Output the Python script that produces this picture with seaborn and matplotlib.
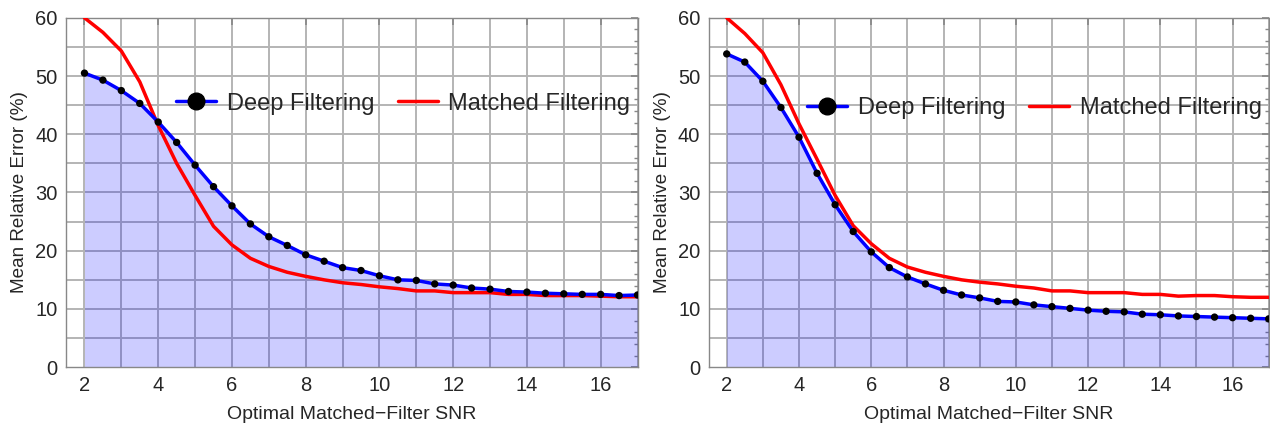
import numpy as np
import pandas as pd
import matplotlib
matplotlib.use("Agg")
import matplotlib.pyplot as plt
import seaborn as sns
from matplotlib.ticker import MultipleLocator
from matplotlib.lines import Line2D

snr = [2, 2.5, 3, 3.5, 4, 4.5, 5, 5.5, 6, 6.5, 7, 7.5, 8, 8.5, 9, 9.5, 10,
       10.5, 11, 11.5, 12, 12.5, 13, 13.5, 14, 14.5, 15, 15.5, 16, 16.5, 17]

deep_left = [50.5, 49.3, 47.5, 45.3, 42.1, 38.6, 34.7, 31.0, 27.7, 24.6, 22.4, 20.9,
             19.3, 18.2, 17.1, 16.6, 15.7, 15.0, 14.9, 14.3, 14.1, 13.6, 13.4, 13.0,
             12.9, 12.7, 12.6, 12.5, 12.5, 12.3, 12.4]
matched_left = [60.0, 57.5, 54.3, 49.0, 41.5, 35.0, 29.5, 24.2, 21.0, 18.7, 17.3, 16.3,
                15.6, 15.0, 14.5, 14.2, 13.8, 13.5, 13.1, 13.1, 12.8, 12.8, 12.8, 12.5,
                12.5, 12.3, 12.3, 12.3, 12.2, 12.1, 12.1]

deep_right = [53.8, 52.4, 49.1, 44.6, 39.5, 33.3, 27.9, 23.3, 19.8, 17.1, 15.5, 14.3,
              13.2, 12.4, 11.9, 11.3, 11.2, 10.7, 10.4, 10.1, 9.8, 9.6, 9.5, 9.1,
              9.0, 8.8, 8.7, 8.6, 8.5, 8.4, 8.3]
matched_right = [60.0, 57.3, 54.0, 48.5, 41.8, 35.7, 29.5, 24.3, 21.2, 18.7, 17.2, 16.3,
                 15.6, 15.0, 14.6, 14.3, 13.9, 13.6, 13.1, 13.1, 12.8, 12.8, 12.8, 12.5,
                 12.5, 12.2, 12.3, 12.3, 12.1, 12.0, 12.0]

x_label = "Optimal Matched\u2212Filter SNR"
y_label = "Mean Relative Error (%)"
labels = ["Deep Filtering", "Matched Filtering"]

sns.set_theme(style="white")
plt.rcParams['font.family'] = ['Liberation Sans', 'DejaVu Sans']

fig = plt.figure(figsize=(12.7, 4.24), dpi=100)
ax1 = fig.add_axes([0.052, 0.134, 0.450, 0.824])
ax2 = fig.add_axes([0.558, 0.134, 0.441, 0.824])

for ax, deep, matched, ly in [(ax1, deep_left, matched_left, 0.754),
                              (ax2, deep_right, matched_right, 0.742)]:
    df = pd.DataFrame({"snr": snr, "deep": deep, "matched": matched})
    ax.set_xlim(1.5, 17)
    ax.set_ylim(0, 60)
    for xv in range(2, 18):
        ax.axvline(xv, color="#b4b4b4", lw=1.4, zorder=0)
    for yv in range(5, 60, 5):
        ax.axhline(yv, color="#b4b4b4", lw=1.4, zorder=0)
    ax.fill_between(df["snr"], 0, df["deep"], color="#0000ff", alpha=0.2,
                    lw=0, zorder=1)
    sns.lineplot(data=df, x="snr", y="matched", ax=ax, color="#ff0000", lw=2.5,
                 zorder=3)
    sns.lineplot(data=df, x="snr", y="deep", ax=ax, color="#0000ff", lw=2.5,
                 zorder=4)
    sns.scatterplot(data=df, x="snr", y="deep", ax=ax, color="black", s=28,
                    edgecolor="none", zorder=5)
    ax.set_xticks(range(2, 18, 2))
    ax.set_yticks(range(0, 61, 10))
    ax.yaxis.set_minor_locator(MultipleLocator(2))
    ax.xaxis.set_minor_locator(MultipleLocator(0.5))
    ax.tick_params(axis="both", which="both", direction="in", color="#888888",
                   top=True, right=True, labelsize=14.5, pad=6)
    ax.tick_params(which="major", length=5)
    ax.tick_params(which="minor", length=3)
    ax.tick_params(axis="x", which="minor", length=0)
    for s in ax.spines.values():
        s.set_color("#888888")
        s.set_linewidth(1.0)
    ax.set_xlabel(x_label, fontsize=14, labelpad=8)
    ax.set_ylabel(y_label, fontsize=13.6, labelpad=5)
    handles = [Line2D([0], [0], color="#0000ff", lw=2.5, marker="o",
                      markersize=12, markerfacecolor="black",
                      markeredgecolor="black"),
               Line2D([0], [0], color="#ff0000", lw=2.5)]
    ax.legend(handles, labels, loc="center right", bbox_to_anchor=(1.0, ly),
              ncol=2, frameon=False, fontsize=17, handlelength=1.7,
              handletextpad=0.45, columnspacing=1.0, borderaxespad=0.1,
              borderpad=0.2)

fig.savefig("out.png", dpi=100)
